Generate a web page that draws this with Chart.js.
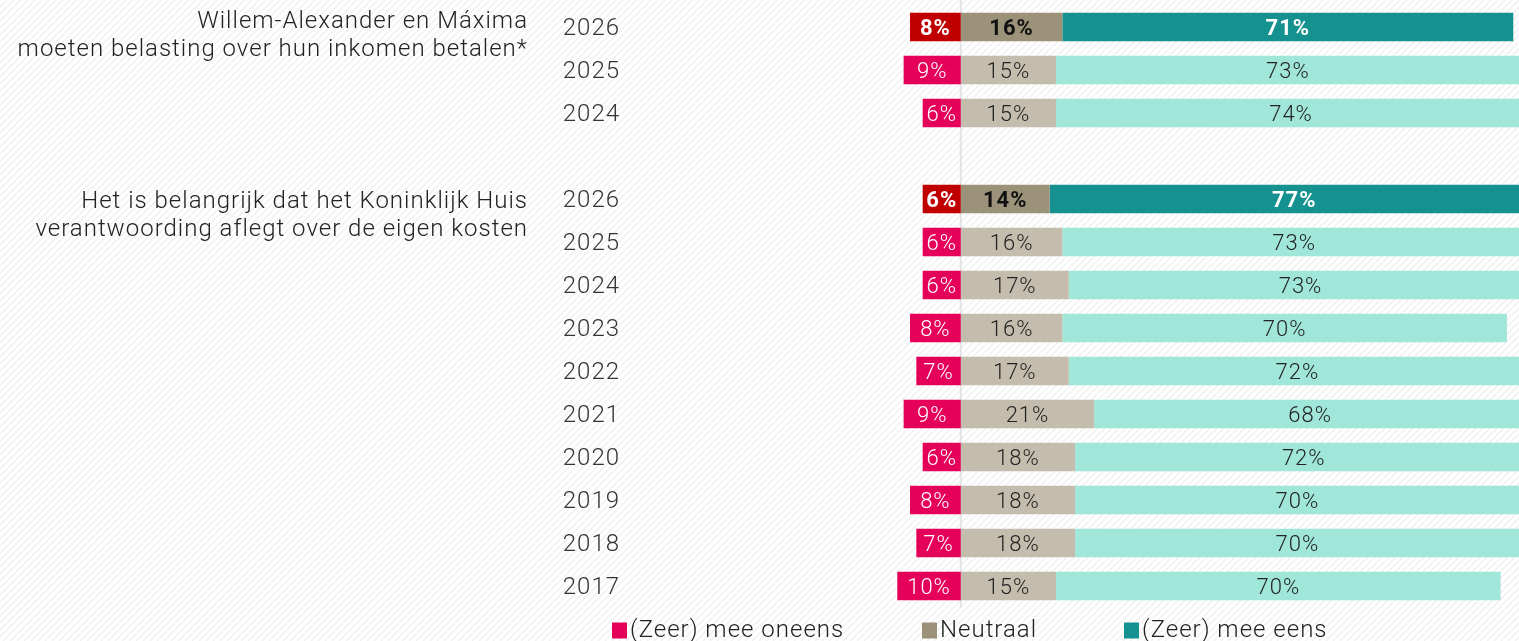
<!DOCTYPE html>
<html><head><meta charset="utf-8">
<script src="https://cdn.jsdelivr.net/npm/chart.js@4.4.1/dist/chart.umd.min.js"></script>
<style>html,body{margin:0;padding:0;background:#fff;overflow:hidden}#wrap{width:1519px;height:641px;position:relative}</style>
</head><body><div id="wrap"><canvas id="c" width="1519" height="641"></canvas></div>
<script>
const years = ['2026','2025','2024','','2026','2025','2024','2023','2022','2021','2020','2019','2018','2017'];
const question1 = ['Willem-Alexander en Máxima','moeten belasting over hun inkomen betalen*'];
const question2 = ['Het is belangrijk dat het Koninklijk Huis','verantwoording aflegt over de eigen kosten'];
const questionRows = [0, 4];
const highlightRows = [0, 4];
const disagree = [8, 9, 6, null, 6, 6, 6, 8, 7, 9, 6, 8, 7, 10];
const neutral  = [16, 15, 15, null, 14, 16, 17, 16, 17, 21, 18, 18, 18, 15];
const agree    = [71, 73, 74, null, 77, 73, 73, 70, 72, 68, 72, 70, 70, 70];
const seriesNames = ['(Zeer) mee oneens', 'Neutraal', '(Zeer) mee eens'];

const FONT = 'Roboto, "Noto Sans", sans-serif';
const COL = {
  dis: ['#C00000', '#E5005A'],
  neu: ['#9C927A', '#C4BDAD'],
  agr: ['#15918F', '#A0E6D9']
};
const legendColors = ['#E5005A', '#9C927A', '#15918F'];
const isHi = i => highlightRows.includes(i);
const colorsFor = pair => years.map((_, i) => isHi(i) ? pair[0] : pair[1]);

const bgPlugin = {
  id: 'bg',
  beforeDraw(chart) {
    const ctx = chart.ctx, w = chart.width, h = chart.height;
    ctx.letterSpacing = '1px';
    ctx.save();
    ctx.fillStyle = '#ffffff';
    ctx.fillRect(0, 0, w, h);
    ctx.strokeStyle = '#f2f2f2';
    ctx.lineWidth = 1.6;
    ctx.beginPath();
    for (let s = -h; s < w + h; s += 7) {
      ctx.moveTo(s, h);
      ctx.lineTo(s + h, 0);
    }
    ctx.stroke();
    ctx.restore();
  },
  beforeDatasetsDraw(chart) {
    const ctx = chart.ctx, x = chart.scales.x.getPixelForValue(0);
    ctx.save();
    ctx.strokeStyle = '#e4e4e4';
    ctx.lineWidth = 2;
    ctx.beginPath();
    ctx.moveTo(x, 0);
    ctx.lineTo(x, chart.chartArea.bottom);
    ctx.stroke();
    ctx.restore();
  }
};

const labelPlugin = {
  id: 'labels',
  afterDatasetsDraw(chart) {
    const ctx = chart.ctx;
    ctx.save();
    ctx.textAlign = 'center';
    ctx.textBaseline = 'middle';
    chart.data.datasets.forEach((ds, di) => {
      const meta = chart.getDatasetMeta(di);
      meta.data.forEach((el, i) => {
        const v = ds.data[i];
        if (v == null) return;
        const hi = isHi(i);
        let color = '#222';
        if (di === 0) color = '#ffffff';
        else if (di === 2 && hi) color = '#ffffff';
        else if (hi) color = '#111';
        ctx.fillStyle = color;
        ctx.font = (hi ? 'bold ' : '300 ') + '22px ' + FONT;
        ctx.fillText(Math.abs(v) + '%', (el.x + el.base) / 2, el.y + 2);
      });
    });
    // question texts
    const y = chart.scales.y;
    const rightX = chart.chartArea.left - 107;
    ctx.textAlign = 'right';
    ctx.textBaseline = 'alphabetic';
    ctx.fillStyle = '#222';
    ctx.font = '300 24px ' + FONT;
    const offs = [1, 9];
    [question1, question2].forEach((lines, qi) => {
      const cy = y.getPixelForValue(questionRows[qi]);
      lines.forEach((ln, li) => ctx.fillText(ln, rightX, cy + offs[qi] + li * 28));
    });
    // legend
    const lx = [612, 922, 1124];
    const ly = chart.chartArea.bottom + 23;
    ctx.textAlign = 'left';
    ctx.textBaseline = 'middle';
    ctx.font = '300 24px ' + FONT;
    seriesNames.forEach((n, k) => {
      ctx.fillStyle = legendColors[k];
      ctx.fillRect(lx[k], ly - 8, 15, 16);
      ctx.fillStyle = '#222';
      ctx.fillText(n, lx[k] + 18, ly);
    });
    ctx.restore();
  }
};

new Chart(document.getElementById('c'), {
  type: 'bar',
  data: {
    labels: years,
    datasets: [
      { label: seriesNames[0], data: disagree.map(v => v == null ? null : -v), backgroundColor: colorsFor(COL.dis) },
      { label: seriesNames[1], data: neutral, backgroundColor: colorsFor(COL.neu) },
      { label: seriesNames[2], data: agree, backgroundColor: colorsFor(COL.agr) }
    ]
  },
  options: {
    indexAxis: 'y',
    responsive: false,
    devicePixelRatio: 1,
    animation: false,
    barPercentage: 0.665,
    categoryPercentage: 1,
    layout: { padding: { top: 5.5, bottom: 33.5, left: 0, right: 0 } },
    plugins: { legend: { display: false }, tooltip: { enabled: false } },
    scales: {
      x: { type: 'linear', stacked: true, min: -51.3, max: 87.9, display: false },
      y: {
        stacked: true,
        grid: { display: false, drawTicks: false },
        border: { display: false },
        ticks: { color: '#333', font: { family: FONT, size: 24, weight: '300' }, padding: 15, autoSkip: false, labelOffset: 2 },
        afterFit(scale) { scale.width = 635; scale.paddingTop = 0; scale.paddingBottom = 0; }
      }
    }
  },
  plugins: [bgPlugin, labelPlugin]
});
</script></body></html>
